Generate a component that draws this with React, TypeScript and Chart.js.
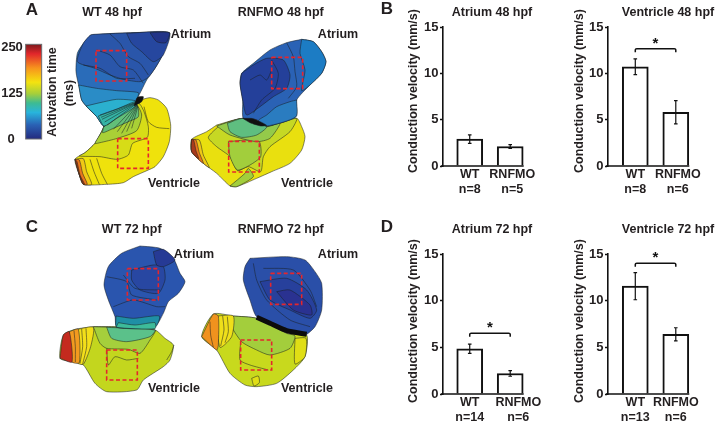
import React, { useEffect, useRef } from "react";
import { Chart, registerables } from "chart.js";

Chart.register(...registerables);

const FONT = '"Liberation Sans", Arial, sans-serif';
const INK = "#231f20";

// ---------- bar chart values ----------
const atrium48Values = [2.9, 2.1];
const atrium48Errors = [0.45, 0.2];
const atrium48Labels = [["WT", "n=8"], ["RNFMO", "n=5"]];
const ventricle48Values = [10.7, 5.8];
const ventricle48Errors = [0.85, 1.25];
const ventricle48Labels = [["WT", "n=8"], ["RNFMO", "n=6"]];
const atrium72Values = [4.85, 2.2];
const atrium72Errors = [0.5, 0.3];
const atrium72Labels = [["WT", "n=14"], ["RNFMO", "n=6"]];
const ventricle72Values = [11.55, 6.4];
const ventricle72Errors = [1.45, 0.7];
const ventricle72Labels = [["WT", "n=13"], ["RNFMO", "n=6"]];
const barPositions = [1, 2];

// ---------- activation colour scale ----------
const scaleStops: [number, string][] = [
  [0, "#7d1a1c"], [0.1, "#e2262b"], [0.25, "#f7941d"], [0.4, "#f4e30f"], [0.52, "#a6cf3a"],
  [0.62, "#3dbb92"], [0.72, "#28b4dc"], [0.85, "#2a62b5"], [1, "#232a7e"],
];

// ---------- activation maps: [fill, outline points] in a 1140 x 1281 plot space ----------
type Layer = [string | null, number[]];

const wt48Layers: Layer[] = [
  ["#efe20c", [420,300,450,293,475,300,500,325,512,375,508,425,490,470,465,500,445,510,400,530,370,548,320,553,250,553,238,525,225,478,255,458,285,430,305,395,315,375,400,315,420,300]],
  [null, [432,320,445,365,470,382,508,386]],
  [null, [290,475,305,520,322,553]],
  [null, [270,478,282,515,298,553]],
  ["#f0c916", [225,478,250,476,260,515,275,553,250,553,238,525,225,478]],
  ["#e8761c", [225,478,238,480,248,520,262,553,250,553,238,525,225,478]],
  ["#a83a1c", [225,478,231,485,240,525,254,553,250,553,238,525,225,478]],
  ["#d7dc17", [315,375,415,310,432,335,445,380,442,412,398,430,385,465,352,478,300,470,238,468,255,458,285,430,305,395,315,375]],
  ["#a9d036", [312,378,410,318,425,345,410,392,352,415,300,428,285,430,305,395,312,378]],
  ["#62bf78", [312,378,410,315,415,350,385,365,340,385,308,398,312,378]],
  ["#2a6cb9", [272,105,340,100,420,98,508,98,498,130,485,170,465,205,440,240,425,270,412,295,405,312,350,345,312,378,290,350,262,322,245,300,238,265,228,215,232,160,250,130,272,105]],
  ["#2a56aa", [300,102,508,98,498,130,485,170,465,205,445,232,420,245,370,238,330,225,285,205,232,185,250,130,272,105,300,102]],
  ["#26479f", [380,100,508,98,490,165,460,185,425,155,395,130,380,100]],
  ["#223488", [450,98,508,98,498,128,470,125,450,98]],
  ["#2a8cc6", [236,255,290,265,350,272,415,278,412,295,405,312,350,345,312,378,290,350,262,322,245,300,236,255]],
  ["#2bb0cf", [258,318,300,308,350,298,405,302,405,312,350,345,312,378,290,350,258,318]],
  ["#35b5a6", [295,348,350,328,405,305,408,318,350,355,312,378,295,348]],
  [null, [330,102,360,130,385,170,420,190,445,225]],
  [null, [290,150,330,165,360,200,400,210,430,250]],
  [null, [250,195,300,205,350,235,405,235]],
  [null, [404,308,300,345]], [null, [405,309,303,352]], [null, [406,310,306,358]], [null, [407,311,314,366]], [null, [408,312,322,375]],
  [null, [410,314,340,388]], [null, [411,315,352,395]], [null, [412,316,365,400]], [null, [413,317,380,395]], [null, [414,318,395,385]],
  ["#111111", [402,318,412,292,430,290,425,305,402,318]],
];
const wt48Box = [288,152,380,152,380,243,288,243,288,152];
const wt48VentricleBox = [353,416,445,416,445,505,353,505,353,416];

const rnf48Layers: Layer[] = [
  ["#e9e00f", [650,375,730,355,800,380,890,355,905,380,915,410,905,450,870,490,815,515,770,535,710,560,690,558,650,520,610,490,575,455,575,418,620,395,650,375]],
  ["#f0c916", [575,418,598,420,610,465,628,503,610,490,575,455,575,418]],
  ["#e8761c", [575,418,588,420,598,458,610,490,575,455,575,418]],
  ["#a83a1c", [575,418,581,420,588,452,596,476,575,455,575,418]],
  ["#c6d824", [660,375,730,355,800,380,890,355,870,395,810,440,790,470,782,515,745,500,712,512,690,470,650,440,625,412,660,375]],
  ["#a2ce3c", [685,425,740,420,778,425,782,470,750,495,712,510,690,470,685,425]],
  ["#a2ce3c", [690,558,735,520,745,505,760,530,710,560,690,558]],
  ["#94ca4a", [650,378,730,355,800,380,840,370,810,415,770,425,690,405,650,378]],
  ["#5fbe80", [682,370,730,355,800,380,770,405,725,412,690,395,682,370]],
  ["#2a62b5", [905,118,940,125,965,155,978,185,965,220,930,255,890,300,888,350,800,378,770,360,730,355,728,300,720,250,725,220,760,190,810,150,860,128,905,118]],
  ["#1c7cc4", [905,118,940,125,965,155,978,185,965,220,930,255,905,272,915,210,900,160,905,118]],
  ["#24409a", [725,220,760,195,800,175,850,180,870,225,860,265,820,290,780,320,740,345,728,300,720,250,725,220]],
  ["#2a7cc0", [890,300,888,350,800,378,775,362,800,345,830,320,870,305,890,300]],
  [null, [860,128,880,170,885,215,890,260,865,295]],
  [null, [815,180,835,220,825,265,785,300,760,340]],
  [null, [750,240,780,225,800,240,815,210]],
  ["#111111", [728,355,760,356,800,376,782,378,750,368,728,355]],
];
const rnf48Box = [815,172,908,172,908,266,815,266,815,172];
const rnf48VentricleBox = [686,424,778,424,778,516,686,516,686,424];

const wt72Layers: Layer[] = [
  ["#c3d61e", [280,350,350,350,465,360,495,385,520,405,510,450,490,470,430,510,410,540,320,545,285,520,250,465,215,455,180,445,190,375,225,358,280,350]],
  ["#f3df1a", [232,358,280,352,272,410,250,463,232,458,232,358]],
  [null, [245,357,248,410,240,460]],
  [null, [258,355,260,410,248,462]],
  ["#f29a1f", [208,365,235,358,238,458,215,455,208,365]],
  [null, [222,362,226,410,226,456]],
  ["#c42a1e", [180,445,190,375,208,365,216,456,180,445]],
  ["#a5cf3c", [280,350,465,360,450,390,420,430,385,418,320,415,300,400,280,350]],
  ["#5bc18a", [320,352,465,360,450,380,380,395,335,385,320,352]],
  [null, [320,415,325,465,345,440,380,450,415,445]],
  [null, [500,450,515,425,522,405]],
  ["#2a55ae", [420,108,480,115,520,145,540,190,555,215,535,250,505,275,490,310,465,348,350,348,345,320,325,270,312,225,325,170,365,130,420,108]],
  ["#2847a2", [395,180,460,165,490,170,495,210,475,250,420,240,395,210,395,180]],
  ["#263a95", [460,125,490,118,525,150,490,170,470,165,460,125]],
  ["#1f8fa5", [348,318,400,325,478,318,465,352,350,352,348,318]],
  ["#3dbb9a", [355,338,405,345,465,338,465,356,350,352,355,338]],
  [null, [320,200,380,215,395,255,470,270]],
  [null, [340,290,400,270,470,290,495,290]],
  [null, [370,195,405,235,480,240]],
];
const wt72Box = [382,176,475,176,475,270,382,270,382,176];
const wt72VentricleBox = [320,420,412,420,412,510,320,510,320,420];

const rnf72Layers: Layer[] = [
  ["#c8d91d", [700,318,770,325,860,370,920,375,915,440,880,480,830,520,770,530,735,525,690,490,650,420,605,380,640,312,700,318]],
  ["#e0de15", [885,385,918,385,915,440,885,462,885,385]],
  ["#a3ce3c", [700,318,770,325,860,370,885,378,870,415,810,435,770,420,725,395,690,340,700,318]],
  ["#efdf1a", [650,318,700,318,695,380,660,412,650,318]],
  [null, [668,318,672,360,662,408]],
  [null, [682,320,685,365,675,398]],
  ["#f0921e", [605,380,640,312,655,318,655,405,650,420,605,380]],
  [null, [630,335,632,375,640,412]],
  [null, [722,395,720,450,750,465,805,480]],
  ["#e0de15", [755,505,775,498,778,518,762,528,755,505]],
  ["#2a4fa8", [750,145,860,140,915,150,945,185,965,220,965,300,945,350,915,375,860,365,770,320,750,270,730,210,735,170,750,145]],
  ["#27409c", [780,215,860,205,920,240,950,300,930,325,870,300,810,270,780,215]],
  ["#2a3291", [830,245,870,240,930,285,935,315,880,300,830,245]],
  [null, [760,160,770,210,800,270,870,330,930,350]],
  [null, [790,175,880,180,930,240,950,290]],
];
const rnf72Band = [770,322,810,340,860,362,920,373];
const rnf72Box = [812,190,905,190,905,283,812,283,812,190];
const rnf72VentricleBox = [722,390,815,390,815,480,722,480,722,390];

const OFFSET_C = 630;

function pts(flat: number[], dy = 0) {
  const out: { x: number; y: number }[] = [];
  for (let i = 0; i < flat.length; i += 2) out.push({ x: flat[i], y: flat[i + 1] + dy });
  return out;
}

function layerSets(layers: Layer[], dy = 0) {
  return layers.map(([fill, flat]) => ({
    data: pts(flat, dy),
    showLine: true,
    pointRadius: 0,
    borderColor: "rgba(25,30,35,0.75)",
    borderWidth: 0.7,
    tension: 0.22,
    backgroundColor: fill ?? "transparent",
    fill: fill ? "shape" : false,
  }));
}

function boxSet(flat: number[], dy = 0) {
  return {
    data: pts(flat, dy),
    showLine: true,
    pointRadius: 0,
    borderColor: "#e5262c",
    borderWidth: 1.6,
    borderDash: [4, 2.5],
    tension: 0,
    fill: false,
  };
}

const colorBarPlugin = {
  id: "colorBar",
  afterDraw(chart: any) {
    const { ctx, scales } = chart;
    const l = scales.x.getPixelForValue(77);
    const r = scales.x.getPixelForValue(125);
    const t = scales.y.getPixelForValue(133);
    const b = scales.y.getPixelForValue(417);
    const g = ctx.createLinearGradient(0, t, 0, b);
    scaleStops.forEach(([s, c]) => g.addColorStop(s, c));
    ctx.save();
    ctx.fillStyle = g;
    ctx.fillRect(l, t, r - l, b - t);
    ctx.strokeStyle = "#6d6e71";
    ctx.lineWidth = 1;
    ctx.strokeRect(l, t, r - l, b - t);
    ctx.restore();
  },
};

type BarSpec = {
  title: string;
  values: number[];
  errors: number[];
  labels: string[][];
  labelPositions: number[];
  bracket: number | null;
  top: number;
  left: number;
  height: number;
  axisWidth: number;
  titleTop: number;
  titleBottom: number;
  axisTitlePad: number;
  axisTitleShift: number;
  xMin: number;
  xMax: number;
  areaBottom: number;
};

const barPlugin = {
  id: "barDecor",
  afterDatasetsDraw(chart: any, _a: any, o: any) {
    const { ctx, scales } = chart;
    const { x, y } = scales;
    ctx.save();
    ctx.strokeStyle = "#111";
    ctx.fillStyle = "#111";
    // baseline
    ctx.lineWidth = 1.6;
    ctx.beginPath();
    ctx.moveTo(x.left - 2, y.getPixelForValue(0));
    ctx.lineTo(x.getPixelForValue(barPositions[1]) + 13.5, y.getPixelForValue(0));
    ctx.stroke();
    // error bars
    ctx.lineWidth = 1.2;
    o.values.forEach((v: number, i: number) => {
      const px = x.getPixelForValue(barPositions[i]);
      const hi = y.getPixelForValue(v + o.errors[i]);
      const lo = y.getPixelForValue(v - o.errors[i]);
      ctx.beginPath();
      ctx.moveTo(px, hi);
      ctx.lineTo(px, lo);
      ctx.moveTo(px - 1.8, hi);
      ctx.lineTo(px + 1.8, hi);
      ctx.moveTo(px - 1.8, lo);
      ctx.lineTo(px + 1.8, lo);
      ctx.stroke();
    });
    // significance bracket
    if (o.bracket !== null) {
      const a = x.getPixelForValue(barPositions[0]);
      const c = x.getPixelForValue(barPositions[1]);
      const b = y.getPixelForValue(o.bracket);
      ctx.lineWidth = 1.5;
      ctx.beginPath();
      ctx.moveTo(a, b + 3.5);
      ctx.lineTo(a, b + 1);
      ctx.quadraticCurveTo(a, b, a + 1.5, b);
      ctx.lineTo(c - 1.5, b);
      ctx.quadraticCurveTo(c, b, c, b + 1);
      ctx.lineTo(c, b + 3.5);
      ctx.stroke();
      ctx.font = `bold 15px ${FONT}`;
      ctx.textAlign = "center";
      ctx.textBaseline = "middle";
      ctx.fillText("*", (a + c) / 2, b - 5);
    }
    ctx.restore();
  },
};

const CANVAS_W = 200;

const barSpecs: BarSpec[] = [
  { title: "Atrium 48 hpf", values: atrium48Values, errors: atrium48Errors, labels: atrium48Labels, labelPositions: [1, 2.05], bracket: null, top: 0, left: 392, height: 205, axisWidth: 51, titleTop: 5, titleBottom: 7, axisTitlePad: 14.5, axisTitleShift: 5.5, xMin: 0.34, xMax: 4.02, areaBottom: 166 },
  { title: "Ventricle 48 hpf", values: ventricle48Values, errors: ventricle48Errors, labels: ventricle48Labels, labelPositions: [1, 2.05], bracket: 12.65, top: 0, left: 568, height: 205, axisWidth: 40, titleTop: 5, titleBottom: 7, axisTitlePad: 3.8, axisTitleShift: 5.5, xMin: 0.326, xMax: 4.277, areaBottom: 166 },
  { title: "Atrium 72 hpf", values: atrium72Values, errors: atrium72Errors, labels: atrium72Labels, labelPositions: [1, 2.2], bracket: 6.5, top: 215, left: 392, height: 212, axisWidth: 51, titleTop: 7, titleBottom: 17, axisTitlePad: 14.5, axisTitleShift: 3, xMin: 0.34, xMax: 4.02, areaBottom: 179 },
  { title: "Ventricle 72 hpf", values: ventricle72Values, errors: ventricle72Errors, labels: ventricle72Labels, labelPositions: [1, 2.0], bracket: 14, top: 215, left: 568, height: 212, axisWidth: 40, titleTop: 7, titleBottom: 17, axisTitlePad: 3.8, axisTitleShift: 3, xMin: 0.326, xMax: 4.277, areaBottom: 179 },
];

function makeBarChart(canvas: HTMLCanvasElement, s: BarSpec) {
  return new Chart(canvas, {
    type: "bar",
    plugins: [barPlugin],
    data: {
      datasets: [
        {
          data: s.values.map((v, i) => ({ x: barPositions[i], y: v })),
          backgroundColor: "#ffffff",
          borderColor: "#111111",
          borderWidth: 2,
          barThickness: 26,
        },
      ],
    },
    options: {
      animation: false,
      responsive: false,
      devicePixelRatio: 1,
      layout: { padding: 0 },
      plugins: {
        legend: { display: false },
        tooltip: { enabled: false },
        title: {
          display: true,
          text: s.title,
          color: INK,
          font: { family: FONT, size: 12.5, weight: "bold" },
          padding: { top: s.titleTop, bottom: s.titleBottom },
        },
        barDecor: s,
      },
      scales: {
        x: {
          type: "linear",
          offset: false,
          min: s.xMin,
          max: s.xMax,
          grid: { display: false, drawTicks: false },
          border: { display: false },
          afterBuildTicks(axis: any) {
            axis.ticks = s.labelPositions.map((value) => ({ value }));
          },
          afterFit(axis: any) {
            axis.height = s.height - s.areaBottom;
          },
          ticks: {
            autoSkip: false,
            maxRotation: 0,
            minRotation: 0,
            padding: 1,
            color: INK,
            font: { family: FONT, size: 12.5, weight: "bold" },
            callback: (_v: any, i: number) => s.labels[i],
          },
        },
        y: {
          min: 0,
          max: 15,
          grid: { drawOnChartArea: false, tickLength: 3, tickWidth: 1.3, tickColor: "#111" },
          border: { display: true, color: "#111", width: 1.6 },
          afterFit(axis: any) {
            axis.width = s.axisWidth;
            if (!axis.__shifted) {
              axis.__shifted = true;
              const orig = axis.drawTitle;
              axis.drawTitle = function () {
                this.ctx.save();
                this.ctx.translate(0, -s.axisTitleShift);
                orig.call(this);
                this.ctx.restore();
              };
            }
          },
          ticks: {
            stepSize: 5,
            padding: 1.5,
            color: INK,
            font: { family: FONT, size: 13, weight: "bold" },
          },
          title: {
            display: true,
            text: "Conduction velocity (mm/s)",
            color: INK,
            padding: { top: s.axisTitlePad, bottom: 0 },
            font: { family: FONT, size: 12.5, weight: "bold" },
          },
        },
      },
    } as any,
  });
}

function makeMapChart(canvas: HTMLCanvasElement) {
  const datasets: any[] = [
    ...layerSets(wt48Layers),
    ...layerSets(rnf48Layers),
    ...layerSets(wt72Layers, OFFSET_C),
    ...layerSets(rnf72Layers, OFFSET_C),
    {
      data: pts(rnf72Band, OFFSET_C),
      showLine: true,
      pointRadius: 0,
      borderColor: "#0c0c0c",
      borderWidth: 5,
      tension: 0.2,
      fill: false,
    },
    boxSet(wt48Box),
    boxSet(wt48VentricleBox),
    boxSet(rnf48Box),
    boxSet(rnf48VentricleBox),
    boxSet(wt72Box, OFFSET_C),
    boxSet(wt72VentricleBox, OFFSET_C),
    boxSet(rnf72Box, OFFSET_C),
    boxSet(rnf72VentricleBox, OFFSET_C),
  ];
  // Chart.js paints the first dataset on top, so the painter's order is reversed.
  datasets.reverse();
  return new Chart(canvas, {
    type: "scatter",
    plugins: [colorBarPlugin],
    data: { datasets },
    options: {
      animation: false,
      responsive: false,
      devicePixelRatio: 1,
      layout: { padding: 0 },
      plugins: { legend: { display: false }, tooltip: { enabled: false } },
      scales: {
        x: { type: "linear", min: 0, max: 1140, display: false },
        y: { type: "linear", min: 0, max: 1281, reverse: true, display: false },
      },
    } as any,
  });
}

const labels: [string, number, number, number, number][] = [
  ["A", 32, 10, 17, 0],
  ["B", 387, 9, 17, 0],
  ["C", 32, 227, 17, 0],
  ["D", 387, 227, 17, 0],
  ["WT 48 hpf", 112, 12.3, 12.5, 0],
  ["RNFMO 48 hpf", 280.7, 12.3, 12.5, 0],
  ["Atrium", 191, 34.3, 12.5, 0],
  ["Atrium", 338, 34.3, 12.5, 0],
  ["Ventricle", 174, 183, 12.5, 0],
  ["Ventricle", 307, 183, 12.5, 0],
  ["WT 72 hpf", 131.7, 229.3, 12.5, 0],
  ["RNFMO 72 hpf", 280.7, 229.3, 12.5, 0],
  ["Atrium", 194, 254.3, 12.5, 0],
  ["Atrium", 338, 254.3, 12.5, 0],
  ["Ventricle", 174, 387.7, 12.5, 0],
  ["Ventricle", 307, 387.7, 12.5, 0],
  ["250", 12, 46.3, 13, 0],
  ["125", 12, 92.3, 13, 0],
  ["0", 11, 138.3, 13, 0],
  ["Activation time", 51.7, 91.7, 12.5, -90],
  ["(ms)", 69.3, 92.7, 12.5, -90],
];

export default function App() {
  const mapRef = useRef<HTMLCanvasElement>(null);
  const barRefs = useRef<(HTMLCanvasElement | null)[]>([]);

  useEffect(() => {
    const charts = [
      makeMapChart(mapRef.current!),
      ...barSpecs.map((s, i) => makeBarChart(barRefs.current[i]!, s)),
    ];
    return () => charts.forEach((c) => c.destroy());
  }, []);

  return (
    <div style={{ position: "fixed", left: 0, top: 0, width: 716, height: 427, overflow: "hidden", background: "#fff" }}>
      <canvas ref={mapRef} width={380} height={427} style={{ position: "absolute", left: 0, top: 0 }} />
      {barSpecs.map((s, i) => (
        <canvas
          key={s.title}
          ref={(el) => {
            barRefs.current[i] = el;
          }}
          width={CANVAS_W}
          height={s.height}
          style={{ position: "absolute", left: s.left, top: s.top }}
        />
      ))}
      {labels.map(([text, x, y, size, rot]) => (
        <div
          key={`${text}-${x}-${y}`}
          style={{
            position: "absolute",
            left: x,
            top: y,
            transform: `translate(-50%,-50%) rotate(${rot}deg)`,
            font: `bold ${size}px ${FONT}`,
            color: INK,
            whiteSpace: "nowrap",
          }}
        >
          {text}
        </div>
      ))}
    </div>
  );
}
